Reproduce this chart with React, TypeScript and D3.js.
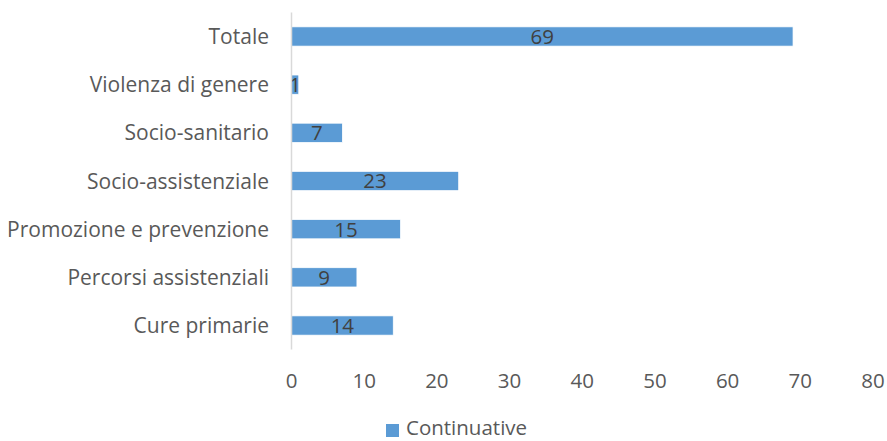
import React from "react";
import * as d3 from "d3";

const categories = [
  "Totale",
  "Violenza di genere",
  "Socio-sanitario",
  "Socio-assistenziale",
  "Promozione e prevenzione",
  "Percorsi assistenziali",
  "Cure primarie",
];
const values = [69, 1, 7, 23, 15, 9, 14];
const xTicks = [0, 10, 20, 30, 40, 50, 60, 70, 80];
const seriesName = "Continuative";

const W = 887;
const H = 441;
const FONT = "'Open Sans', sans-serif";
const BAR = "#5B9BD5";
const FS = 20.5;

export default function App() {
  const x = d3.scaleLinear().domain([0, 80]).range([291.5, 873]);
  const y = d3
    .scaleBand<string>()
    .domain(categories)
    .range([12.4, 349.6])
    .paddingInner(0.6)
    .paddingOuter(0.3);
  const bw = y.bandwidth();

  return (
    <svg
      width={W}
      height={H}
      style={{ position: "absolute", left: 0, top: 0, background: "#fff" }}
    >
      {categories.map((c, i) => (
        <g key={c}>
          <rect
            x={x(0)}
            y={y(c)!}
            width={x(values[i]) - x(0)}
            height={bw}
            fill={BAR}
            stroke="#ffffff"
            strokeWidth={0.75}
          />
          <text
            x={(x(0) + x(values[i])) / 2}
            y={y(c)! + bw / 2}
            dy="0.36em"
            textAnchor="middle"
            fontFamily={FONT}
            fontSize={FS}
            fill="#404040"
          >
            {values[i]}
          </text>
          <text
            x={269}
            y={y(c)! + bw / 2}
            dy="0.36em"
            textAnchor="end"
            fontFamily={FONT}
            fontSize={21}
            fill="#595959"
          >
            {c}
          </text>
        </g>
      ))}
      <line
        x1={x(0)}
        x2={x(0)}
        y1={12.4}
        y2={349.6}
        stroke="#d9d9d9"
        strokeWidth={1.5}
      />
      {xTicks.map((t) => (
        <text
          key={t}
          x={x(t)}
          y={381}
          dy="0.36em"
          textAnchor="middle"
          fontFamily={FONT}
          fontSize={FS}
          fill="#595959"
        >
          {t}
        </text>
      ))}
      <rect x={386} y={424} width={13} height={13} fill={BAR} />
      <text
        x={406}
        y={428}
        dy="0.36em"
        fontFamily={FONT}
        fontSize={FS}
        fill="#595959"
      >
        {seriesName}
      </text>
    </svg>
  );
}
